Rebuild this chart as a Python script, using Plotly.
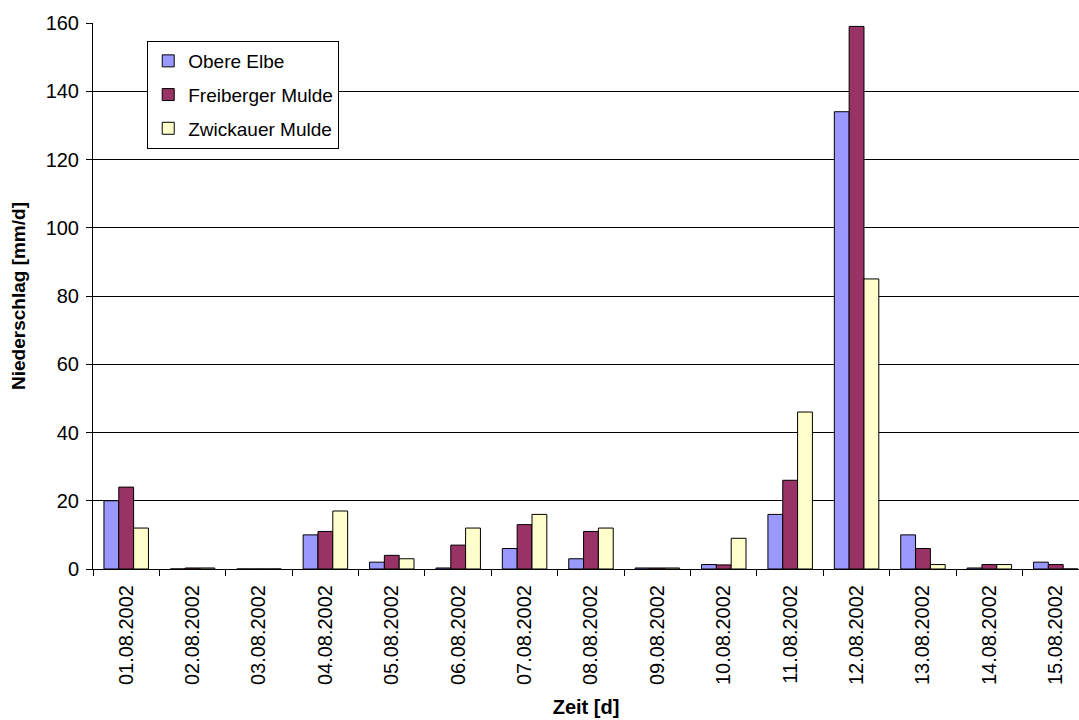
import plotly.graph_objects as go

dates = ["01.08.2002", "02.08.2002", "03.08.2002", "04.08.2002", "05.08.2002",
         "06.08.2002", "07.08.2002", "08.08.2002", "09.08.2002", "10.08.2002",
         "11.08.2002", "12.08.2002", "13.08.2002", "14.08.2002", "15.08.2002"]
obere_elbe = [20, 0, 0, 10, 2, 0.3, 6, 3, 0.3, 1.3, 16, 134, 10, 0.3, 2]
freiberger_mulde = [24, 0.3, 0, 11, 4, 7, 13, 11, 0.3, 1.2, 26, 159, 6, 1.3, 1.3]
zwickauer_mulde = [12, 0.3, 0, 17, 3, 12, 16, 12, 0.3, 9, 46, 85, 1.3, 1.3, 0]

series = [("Obere Elbe", obere_elbe, "#9999FF"),
          ("Freiberger Mulde", freiberger_mulde, "#993366"),
          ("Zwickauer Mulde", zwickauer_mulde, "#FFFFCC")]

fig = go.Figure()
for name, vals, col in series:
    fig.add_trace(go.Bar(x=dates, y=vals, name=name, legendgroup=name,
                         marker=dict(color=col, line=dict(color="black", width=1))))

font = "Liberation Sans, Arial, sans-serif"
fig.update_layout(
    width=1079, height=720,
    margin=dict(l=93, r=0, t=23, b=151),
    paper_bgcolor="white", plot_bgcolor="white",
    barmode="group", bargap=0.33, bargroupgap=0,
    font=dict(family=font, size=20, color="black"),
    showlegend=True,
    legend=dict(x=0.055, y=0.967, xanchor="left", yanchor="top",
                bgcolor="white", bordercolor="black", borderwidth=1,
                font=dict(size=19, family=font), traceorder="grouped",
                tracegroupgap=6),
    xaxis=dict(range=[-0.5, 14.35], tickangle=-90, showline=True, linecolor="black",
               linewidth=1, ticks="outside", tickson="boundaries", ticklen=6,
               tickcolor="black", tickfont=dict(size=20), automargin=False,
               ticklabelstandoff=7,
               title=dict(text="<b>Zeit [d]</b>", font=dict(size=20), standoff=15)),
    yaxis=dict(range=[0, 160], dtick=20, showline=True, linecolor="black", linewidth=1,
               ticks="outside", ticklen=6, tickcolor="black", showgrid=True,
               gridcolor="black", gridwidth=1, zeroline=False, tickfont=dict(size=20),
               automargin=False, ticklabelstandoff=3,
               title=dict(text="<b>Niederschlag [mm/d]</b>", font=dict(size=19), standoff=14)),
)
fig.write_html("out.html")
